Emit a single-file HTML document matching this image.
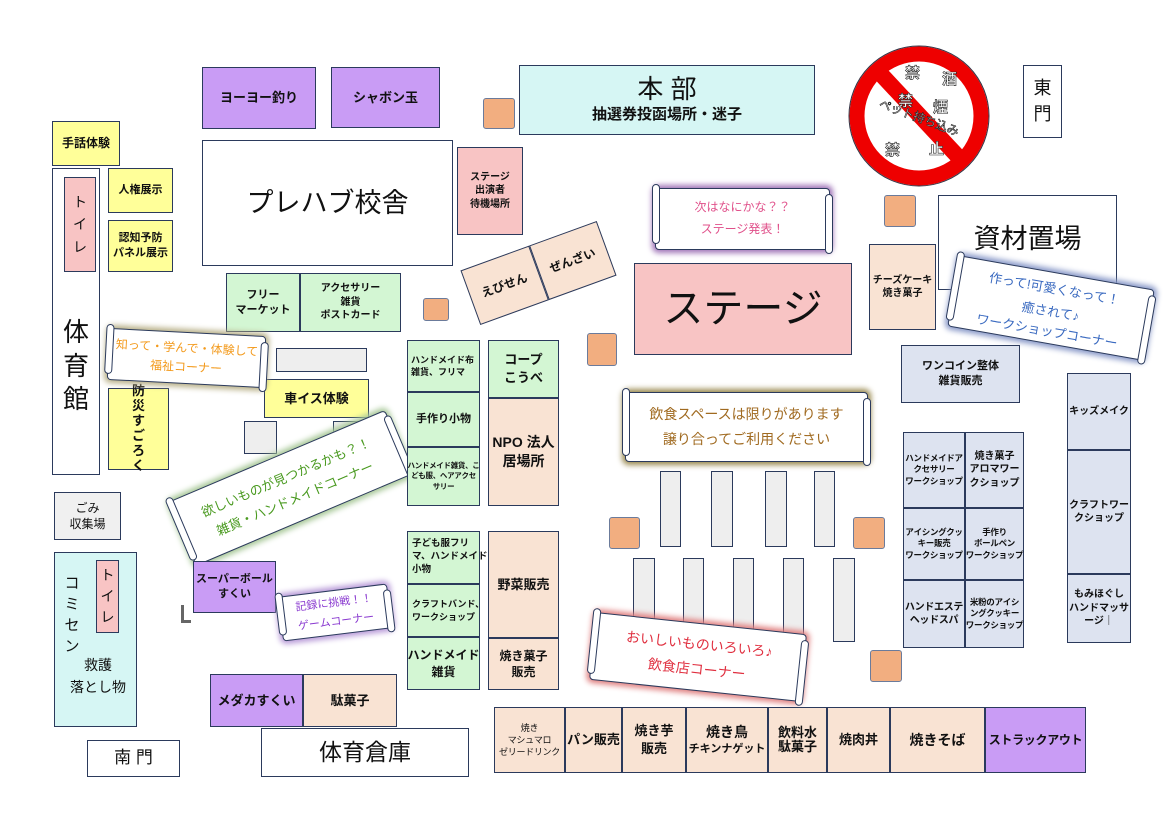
<!DOCTYPE html>
<html><head><meta charset="utf-8"><style>
body{margin:0;width:1170px;height:824px;background:#fff;position:relative;overflow:hidden;font-family:"Liberation Sans","Noto Sans CJK JP",sans-serif;color:#111}
.b{position:absolute;border:1.5px solid #2b3a5c;display:flex;align-items:center;justify-content:center;text-align:center;font-weight:bold;box-sizing:border-box;font-size:11px;line-height:1.35}
.p{background:#c99cf5}.y{background:#ffff99}.g{background:#d3f6d3}.k{background:#f9e3d3}.pk{background:#f8c4c4}.c{background:#d6f6f4}.l{background:#dde3f0}.w{background:#fff}.gr{background:#eeeeee}
.o{position:absolute;background:#f2ae80;border:1.5px solid #6b7b9b;border-radius:3px;box-sizing:border-box}
.bn{position:absolute;background:#fff;border:1.5px solid #2b3a5c;border-radius:4px;box-sizing:border-box;display:flex;flex-direction:column;align-items:center;justify-content:center;text-align:center;font-size:13px;line-height:1.8}
.bn:before,.bn:after{content:"";position:absolute;width:8px;height:100%;border:1.5px solid #2b3a5c;border-radius:5px;background:#fff;box-sizing:border-box}
.bn:before{left:-4px;top:-5px}.bn:after{right:-4px;top:5px}
.nw{white-space:nowrap}
</style></head><body>
<div class="b p" style="left:202px;top:67px;width:114px;height:62px;font-size:13px">ヨーヨー釣り</div>
<div class="b p" style="left:331px;top:67px;width:109px;height:61px;font-size:13px">シャボン玉</div>
<div class="o" style="left:483px;top:98px;width:32px;height:31px"></div>
<div class="b c" style="left:519px;top:65px;width:296px;height:70px;flex-direction:column;font-weight:normal"><div style="font-size:26px;line-height:1.2">本 部</div><div style="font-size:15px;font-weight:bold">抽選券投函場所・迷子</div></div>
<svg style="position:absolute;left:845px;top:44px" width="150" height="145"><circle cx="74" cy="72" r="62" fill="#fff" stroke="#e00" stroke-width="15"/><circle cx="74" cy="72" r="70" fill="none" stroke="#334" stroke-width="1"/><line x1="33" y1="27" x2="118" y2="118" stroke="#e00" stroke-width="16"/><g font-family="Noto Sans CJK JP" font-weight="bold" font-size="15" fill="#fff" stroke="#222" stroke-width="0.6"><text x="60" y="34">禁</text><text x="97" y="40">酒</text><text x="53" y="62">禁</text><text x="88" y="68">煙</text><text x="40" y="111">禁</text><text x="84" y="110">止</text></g><text x="28" y="77" font-size="12" font-family="Noto Sans CJK JP" fill="#fff" stroke="#222" stroke-width="0.6" transform="rotate(20 70 85)">ペット持ち込み</text></svg>
<div class="b w" style="left:1023px;top:65px;width:39px;height:73px;font-size:18px;font-weight:normal;line-height:1.4">東<br>門</div>
<div class="b y" style="left:52px;top:121px;width:68px;height:45px;font-size:12px">手話体験</div>
<div class="b w" style="left:52px;top:168px;width:48px;height:307px;font-size:26px;font-weight:normal;line-height:1.3;padding-top:90px">体<br>育<br>館</div>
<div class="b pk" style="left:64px;top:177px;width:32px;height:95px;font-size:14px;font-weight:normal;line-height:1.6">ト<br>イ<br>レ</div>
<div class="b y" style="left:108px;top:168px;width:65px;height:45px">人権展示</div>
<div class="b y" style="left:108px;top:220px;width:65px;height:52px">認知予防<br>パネル展示</div>
<div class="b w" style="left:202px;top:140px;width:251px;height:126px;font-size:27px;font-weight:normal">プレハブ校舎</div>
<div class="b pk" style="left:457px;top:147px;width:66px;height:88px;font-size:10px">ステージ<br>出演者<br>待機場所</div>
<div style="position:absolute;left:466px;top:244px;width:145px;height:58px;transform:rotate(-20deg);display:flex"><div class="b k" style="position:relative;width:50%;height:100%;font-size:12px">えびせん</div><div class="b k" style="position:relative;width:50%;height:100%;font-size:12px">ぜんざい</div></div>
<div class="o" style="left:423px;top:298px;width:26px;height:23px"></div>
<div class="b g" style="left:226px;top:273px;width:74px;height:59px">フリー<br>マーケット</div>
<div class="b g" style="left:300px;top:273px;width:101px;height:59px;font-size:10px">アクセサリー<br>雑貨<br>ポストカード</div>
<div class="b gr" style="left:276px;top:348px;width:91px;height:24px"></div>
<div class="b y" style="left:264px;top:379px;width:105px;height:39px;font-size:13px">車イス体験</div>
<div class="b y" style="left:108px;top:388px;width:61px;height:82px;font-size:13px;line-height:1.15">防<br>災<br>す<br>ご<br>ろ<br>く</div>
<div class="b gr" style="left:244px;top:421px;width:33px;height:33px"></div>
<div class="b gr" style="left:333px;top:421px;width:33px;height:31px"></div>
<div class="bn" style="left:108px;top:332px;width:157px;height:52px;transform:rotate(3deg);box-shadow:0 0 6px 3px #b8b088;color:#f39a1c;line-height:1.6;font-size:12px"><div>知って・学んで・体験して</div><div>福祉コーナー</div></div>
<div class="bn" style="left:173px;top:453px;width:235px;height:70px;transform:rotate(-23deg);box-shadow:0 0 6px 3px #a8c898;color:#4a9a20"><div>欲しいものが見つかるかも？！</div><div>雑貨・ハンドメイドコーナー</div></div>
<div class="b gr" style="left:54px;top:492px;width:67px;height:48px;font-size:12px;font-weight:normal;background:#f0f0f0">ごみ<br>収集場</div>
<div class="b c" style="left:54px;top:552px;width:83px;height:175px"></div>
<div style="position:absolute;left:62px;top:573px;width:20px;text-align:center;font-size:15px;line-height:1.4">コ<br>ミ<br>セ<br>ン</div>
<div style="position:absolute;left:58px;top:655px;width:80px;text-align:center;font-size:14px;line-height:1.55">救護<br>落とし物</div>
<div class="b pk" style="left:96px;top:560px;width:23px;height:73px;font-size:14px;font-weight:normal;line-height:1.5">ト<br>イ<br>レ</div>
<div class="b p" style="left:193px;top:561px;width:83px;height:52px">スーパーボール<br>すくい</div>
<div style="position:absolute;left:181px;top:605px;width:10px;height:18px;border-left:3px solid #666;border-bottom:3px solid #666;box-sizing:border-box"></div>
<div class="bn" style="left:280px;top:590px;width:110px;height:45px;transform:rotate(-7deg);box-shadow:0 0 6px 3px #b89ad8;color:#8a3ad0;font-size:11px;line-height:1.7"><div>記録に挑戦！！</div><div>ゲームコーナー</div></div>
<div class="b p" style="left:210px;top:674px;width:93px;height:53px;font-size:13px">メダカすくい</div>
<div class="b k" style="left:303px;top:674px;width:94px;height:53px;font-size:13px">駄菓子</div>
<div class="b w" style="left:261px;top:728px;width:208px;height:49px;font-size:23px;font-weight:normal">体育倉庫</div>
<div class="b w" style="left:87px;top:740px;width:93px;height:37px;font-size:17px;font-weight:normal">南 門</div>
<div class="b g nw" style="left:407px;top:340px;width:73px;height:52px;font-size:9px;justify-content:flex-start;text-align:left;padding-left:3px">ハンドメイド布<br>雑貨、フリマ</div>
<div class="b g" style="left:407px;top:392px;width:73px;height:55px">手作り小物</div>
<div class="b g nw" style="left:407px;top:447px;width:73px;height:59px;font-size:7.5px;letter-spacing:-0.3px">ハンドメイド雑貨、こ<br>ども服、ヘアアクセ<br>サリー</div>
<div class="b g" style="left:488px;top:340px;width:71px;height:58px;font-size:13px">コープ<br>こうべ</div>
<div class="b k" style="left:488px;top:398px;width:71px;height:108px;font-size:14px">NPO 法人<br>居場所</div>
<div class="b g nw" style="left:407px;top:531px;width:73px;height:53px;font-size:9.5px;justify-content:flex-start;text-align:left;padding-left:4px">子ども服フリ<br>マ、ハンドメイド<br>小物</div>
<div class="b g nw" style="left:407px;top:584px;width:73px;height:53px;font-size:9px;justify-content:flex-start;text-align:left;padding-left:4px">クラフトバンド、<br>ワークショップ</div>
<div class="b g nw" style="left:407px;top:637px;width:73px;height:53px;font-size:12px">ハンドメイド<br>雑貨</div>
<div class="b k" style="left:488px;top:531px;width:71px;height:107px;font-size:13px">野菜販売</div>
<div class="b k" style="left:488px;top:638px;width:71px;height:52px;font-size:12px">焼き菓子<br>販売</div>
<div class="o" style="left:587px;top:333px;width:30px;height:33px"></div>
<div class="bn" style="left:655px;top:188px;width:175px;height:62px;box-shadow:0 0 6px 3px #a074b8;color:#e0508a;font-size:12px"><div>次はなにかな？？</div><div>ステージ発表！</div></div>
<div class="b pk" style="left:634px;top:263px;width:218px;height:92px;font-size:40px;font-weight:normal">ステージ</div>
<div class="o" style="left:884px;top:195px;width:32px;height:32px"></div>
<div class="b w" style="left:938px;top:195px;width:179px;height:95px;font-size:27px;font-weight:normal;align-items:flex-start;padding-top:25px">資材置場</div>
<div class="b k" style="left:869px;top:244px;width:67px;height:86px;font-size:10px">チーズケーキ<br>焼き菓子</div>
<div class="bn" style="left:952px;top:272px;width:198px;height:72px;transform:rotate(10deg);box-shadow:0 0 6px 3px #8898c8;color:#3a6ac0"><div>作って!可愛くなって！</div><div>癒されて♪</div><div style="line-height:1.2">ワークショップコーナー</div></div>
<div class="b l" style="left:901px;top:345px;width:119px;height:58px">ワンコイン整体<br>雑貨販売</div>
<div class="b l" style="left:1067px;top:373px;width:64px;height:77px;font-size:10px">キッズメイク</div>
<div class="b l nw" style="left:1067px;top:450px;width:64px;height:124px;font-size:10px">クラフトワー<br>クショップ</div>
<div class="b l nw" style="left:1067px;top:574px;width:64px;height:69px;font-size:10px">もみほぐし<br>ハンドマッサ<br>ージ｜</div>
<div class="bn" style="left:625px;top:392px;width:243px;height:70px;box-shadow:0 0 6px 3px #9a8a50;color:#a06a20;font-size:14px"><div>飲食スペースは限りがあります</div><div>譲り合ってご利用ください</div></div>
<div class="b gr" style="left:660px;top:471px;width:21px;height:76px"></div>
<div class="b gr" style="left:711px;top:471px;width:22px;height:76px"></div>
<div class="b gr" style="left:765px;top:471px;width:22px;height:76px"></div>
<div class="b gr" style="left:814px;top:471px;width:21px;height:76px"></div>
<div class="o" style="left:609px;top:517px;width:31px;height:32px"></div>
<div class="o" style="left:853px;top:517px;width:32px;height:32px"></div>
<div class="b gr" style="left:633px;top:558px;width:22px;height:84px"></div>
<div class="b gr" style="left:683px;top:558px;width:21px;height:84px"></div>
<div class="b gr" style="left:733px;top:558px;width:21px;height:84px"></div>
<div class="b gr" style="left:783px;top:558px;width:21px;height:84px"></div>
<div class="b gr" style="left:833px;top:558px;width:22px;height:84px"></div>
<div class="b l nw" style="left:903px;top:432px;width:62px;height:76px;font-size:8.5px;letter-spacing:-0.3px">ハンドメイドア<br>クセサリー<br>ワークショップ</div>
<div class="b l nw" style="left:965px;top:432px;width:59px;height:76px;font-size:10px">焼き菓子<br>アロマワー<br>クショップ</div>
<div class="b l nw" style="left:903px;top:508px;width:62px;height:72px;font-size:8.5px;letter-spacing:-0.3px">アイシングクッ<br>キー販売<br>ワークショップ</div>
<div class="b l nw" style="left:965px;top:508px;width:59px;height:72px;font-size:8.5px;letter-spacing:-0.3px">手作り<br>ボールペン<br>ワークショップ</div>
<div class="b l nw" style="left:903px;top:580px;width:62px;height:68px;font-size:10px;letter-spacing:-0.3px">ハンドエステ<br>ヘッドスパ</div>
<div class="b l nw" style="left:965px;top:580px;width:59px;height:68px;font-size:8.5px;letter-spacing:-0.3px">米粉のアイシ<br>ングクッキー<br>ワークショップ</div>
<div class="bn" style="left:592px;top:623px;width:212px;height:68px;transform:rotate(6deg);box-shadow:0 0 6px 3px #e08080;color:#e03040;font-size:14px"><div>おいしいものいろいろ♪</div><div>飲食店コーナー</div></div>
<div class="o" style="left:870px;top:650px;width:32px;height:32px"></div>
<div class="b k nw" style="left:494px;top:707px;width:71px;height:66px;font-size:9px;font-weight:normal;letter-spacing:-0.3px">焼き<br>マシュマロ<br>ゼリードリンク</div>
<div class="b k" style="left:565px;top:707px;width:57px;height:66px;font-size:13px">パン販売</div>
<div class="b k" style="left:622px;top:707px;width:64px;height:66px;font-size:13px">焼き芋<br>販売</div>
<div class="b k nw" style="left:686px;top:707px;width:82px;height:66px;font-size:11px"><div><span style="font-size:14px">焼き鳥</span><br>チキンナゲット</div></div>
<div class="b k" style="left:768px;top:707px;width:59px;height:66px;font-size:13px;line-height:1.1">飲料水<br>駄菓子</div>
<div class="b k" style="left:827px;top:707px;width:63px;height:66px;font-size:13px">焼肉丼</div>
<div class="b k" style="left:890px;top:707px;width:95px;height:66px;font-size:14px">焼きそば</div>
<div class="b p nw" style="left:985px;top:707px;width:101px;height:66px;font-size:12px;letter-spacing:-0.3px">ストラックアウト</div>
</body></html>
